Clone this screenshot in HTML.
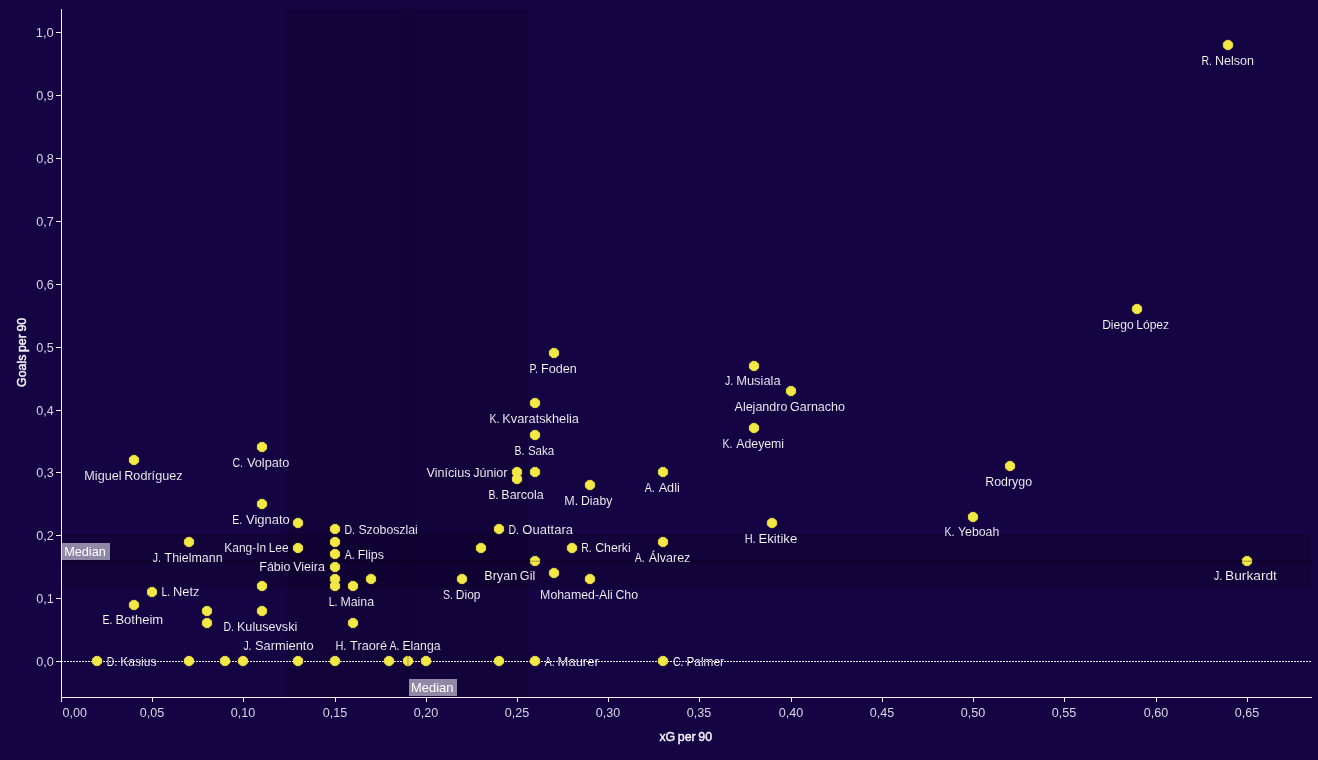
<!DOCTYPE html>
<html lang="en">
<head>
<meta charset="utf-8">
<title>Goals per 90 vs xG per 90</title>
<style>
html,body{margin:0;padding:0;background:#150443;}
body{width:1318px;height:760px;overflow:hidden;}
svg{display:block;font-family:"Liberation Sans", sans-serif;}
text{white-space:pre;}
</style>
</head>
<body>
<svg width="1318" height="760" viewBox="0 0 1318 760">
<rect x="0" y="0" width="1318" height="760" fill="#150443"/>
<g shape-rendering="crispEdges">
<rect x="287" y="9" width="241" height="688" fill="#000000" fill-opacity="0.13"/>
<rect x="62" y="533" width="1249" height="55" fill="#000000" fill-opacity="0.13"/>
<rect x="406" y="9" width="4" height="688" fill="#000" fill-opacity="0.05"/>
<rect x="407" y="9" width="2" height="688" fill="#000" fill-opacity="0.10"/>
<rect x="62" y="560" width="1249" height="3" fill="#000" fill-opacity="0.14"/>
<rect x="61" y="9" width="1" height="689" fill="#f4f2f8"/>
<rect x="61" y="697" width="1251" height="1" fill="#f4f2f8"/>
<rect x="56" y="661" width="5" height="1" fill="#f4f2f8"/>
<rect x="56" y="598" width="5" height="1" fill="#f4f2f8"/>
<rect x="56" y="535" width="5" height="1" fill="#f4f2f8"/>
<rect x="56" y="472" width="5" height="1" fill="#f4f2f8"/>
<rect x="56" y="410" width="5" height="1" fill="#f4f2f8"/>
<rect x="56" y="347" width="5" height="1" fill="#f4f2f8"/>
<rect x="56" y="284" width="5" height="1" fill="#f4f2f8"/>
<rect x="56" y="221" width="5" height="1" fill="#f4f2f8"/>
<rect x="56" y="158" width="5" height="1" fill="#f4f2f8"/>
<rect x="56" y="95" width="5" height="1" fill="#f4f2f8"/>
<rect x="56" y="32" width="5" height="1" fill="#f4f2f8"/>
<rect x="61" y="698" width="1" height="4" fill="#f4f2f8"/>
<rect x="152" y="698" width="1" height="4" fill="#f4f2f8"/>
<rect x="243" y="698" width="1" height="4" fill="#f4f2f8"/>
<rect x="335" y="698" width="1" height="4" fill="#f4f2f8"/>
<rect x="426" y="698" width="1" height="4" fill="#f4f2f8"/>
<rect x="517" y="698" width="1" height="4" fill="#f4f2f8"/>
<rect x="608" y="698" width="1" height="4" fill="#f4f2f8"/>
<rect x="699" y="698" width="1" height="4" fill="#f4f2f8"/>
<rect x="791" y="698" width="1" height="4" fill="#f4f2f8"/>
<rect x="882" y="698" width="1" height="4" fill="#f4f2f8"/>
<rect x="973" y="698" width="1" height="4" fill="#f4f2f8"/>
<rect x="1064" y="698" width="1" height="4" fill="#f4f2f8"/>
<rect x="1156" y="698" width="1" height="4" fill="#f4f2f8"/>
<rect x="1247" y="698" width="1" height="4" fill="#f4f2f8"/>
<rect x="62" y="543" width="48" height="17" fill="#9088a7"/>
<rect x="409" y="679" width="48" height="17" fill="#9088a7"/>
</g>
<g>
<text x="36.27" y="665.80" textLength="17.53" lengthAdjust="spacingAndGlyphs" fill="#d9d5e3" font-size="12.8">0,0</text>
<text x="36.27" y="602.80" textLength="17.64" lengthAdjust="spacingAndGlyphs" fill="#d9d5e3" font-size="12.8">0,1</text>
<text x="36.27" y="539.80" textLength="17.64" lengthAdjust="spacingAndGlyphs" fill="#d9d5e3" font-size="12.8">0,2</text>
<text x="36.27" y="476.80" textLength="17.64" lengthAdjust="spacingAndGlyphs" fill="#d9d5e3" font-size="12.8">0,3</text>
<text x="36.28" y="414.80" textLength="17.42" lengthAdjust="spacingAndGlyphs" fill="#d9d5e3" font-size="12.8">0,4</text>
<text x="36.27" y="351.80" textLength="17.53" lengthAdjust="spacingAndGlyphs" fill="#d9d5e3" font-size="12.8">0,5</text>
<text x="36.27" y="288.80" textLength="17.64" lengthAdjust="spacingAndGlyphs" fill="#d9d5e3" font-size="12.8">0,6</text>
<text x="36.27" y="225.80" textLength="17.64" lengthAdjust="spacingAndGlyphs" fill="#d9d5e3" font-size="12.8">0,7</text>
<text x="36.27" y="162.80" textLength="17.53" lengthAdjust="spacingAndGlyphs" fill="#d9d5e3" font-size="12.8">0,8</text>
<text x="36.27" y="99.80" textLength="17.64" lengthAdjust="spacingAndGlyphs" fill="#d9d5e3" font-size="12.8">0,9</text>
<text x="35.83" y="36.80" textLength="17.99" lengthAdjust="spacingAndGlyphs" fill="#d9d5e3" font-size="12.8">1,0</text>
<text x="62.58" y="716.90" textLength="24.50" lengthAdjust="spacingAndGlyphs" fill="#d9d5e3" font-size="12.8">0,00</text>
<text x="139.78" y="716.90" textLength="24.50" lengthAdjust="spacingAndGlyphs" fill="#d9d5e3" font-size="12.8">0,05</text>
<text x="230.78" y="716.90" textLength="24.50" lengthAdjust="spacingAndGlyphs" fill="#d9d5e3" font-size="12.8">0,10</text>
<text x="322.78" y="716.90" textLength="24.50" lengthAdjust="spacingAndGlyphs" fill="#d9d5e3" font-size="12.8">0,15</text>
<text x="413.78" y="716.90" textLength="24.50" lengthAdjust="spacingAndGlyphs" fill="#d9d5e3" font-size="12.8">0,20</text>
<text x="504.78" y="716.90" textLength="24.50" lengthAdjust="spacingAndGlyphs" fill="#d9d5e3" font-size="12.8">0,25</text>
<text x="595.78" y="716.90" textLength="24.50" lengthAdjust="spacingAndGlyphs" fill="#d9d5e3" font-size="12.8">0,30</text>
<text x="686.78" y="716.90" textLength="24.50" lengthAdjust="spacingAndGlyphs" fill="#d9d5e3" font-size="12.8">0,35</text>
<text x="778.78" y="716.90" textLength="24.50" lengthAdjust="spacingAndGlyphs" fill="#d9d5e3" font-size="12.8">0,40</text>
<text x="869.78" y="716.90" textLength="24.50" lengthAdjust="spacingAndGlyphs" fill="#d9d5e3" font-size="12.8">0,45</text>
<text x="960.78" y="716.90" textLength="24.50" lengthAdjust="spacingAndGlyphs" fill="#d9d5e3" font-size="12.8">0,50</text>
<text x="1051.78" y="716.90" textLength="24.50" lengthAdjust="spacingAndGlyphs" fill="#d9d5e3" font-size="12.8">0,55</text>
<text x="1143.78" y="716.90" textLength="24.50" lengthAdjust="spacingAndGlyphs" fill="#d9d5e3" font-size="12.8">0,60</text>
<text x="1234.78" y="716.90" textLength="24.50" lengthAdjust="spacingAndGlyphs" fill="#d9d5e3" font-size="12.8">0,65</text>
</g>
<text x="659.39" y="741.00" textLength="52.72" lengthAdjust="spacingAndGlyphs" fill="#f3f1f7" font-size="12.4" word-spacing="-0.8" stroke="#f3f1f7" stroke-width="0.45" stroke-linejoin="round">xG per 90</text>
<g transform="translate(26.3,387) rotate(-90)"><text x="0.08" y="0.00" textLength="69.14" lengthAdjust="spacingAndGlyphs" fill="#f3f1f7" font-size="12.4" word-spacing="-0.8" stroke="#f3f1f7" stroke-width="0.45" stroke-linejoin="round">Goals per 90</text></g>
<text x="64.24" y="556.00" textLength="41.55" lengthAdjust="spacingAndGlyphs" fill="#ffffff" font-size="12.8">Median</text>
<text x="411.02" y="692.00" textLength="42.39" lengthAdjust="spacingAndGlyphs" fill="#ffffff" font-size="12.8">Median</text>
<g stroke="#150443" stroke-width="0.12">
<text y="64.60" fill="#ffffff" font-size="12.8"><tspan x="1201.48" textLength="10.50" lengthAdjust="spacingAndGlyphs">R.</tspan><tspan> </tspan><tspan x="1214.97" textLength="38.97" lengthAdjust="spacingAndGlyphs">Nelson</tspan></text>
<text x="1102.14" y="329.40" textLength="66.99" lengthAdjust="spacingAndGlyphs" fill="#ffffff" font-size="12.8" word-spacing="-0.8">Diego López</text>
<text y="373.10" fill="#ffffff" font-size="12.8"><tspan x="529.48" textLength="8.56" lengthAdjust="spacingAndGlyphs">P.</tspan><tspan> </tspan><tspan x="541.03" textLength="35.78" lengthAdjust="spacingAndGlyphs">Foden</tspan></text>
<text y="385.10" fill="#ffffff" font-size="12.8"><tspan x="725.08" textLength="8.16" lengthAdjust="spacingAndGlyphs">J.</tspan><tspan> </tspan><tspan x="736.17" textLength="44.52" lengthAdjust="spacingAndGlyphs">Musiala</tspan></text>
<text x="734.55" y="410.90" textLength="110.45" lengthAdjust="spacingAndGlyphs" fill="#ffffff" font-size="12.8" word-spacing="-0.8">Alejandro Garnacho</text>
<text y="423.20" fill="#ffffff" font-size="12.8"><tspan x="489.48" textLength="9.92" lengthAdjust="spacingAndGlyphs">K.</tspan><tspan> </tspan><tspan x="502.33" textLength="76.65" lengthAdjust="spacingAndGlyphs">Kvaratskhelia</tspan></text>
<text y="448.00" fill="#ffffff" font-size="12.8"><tspan x="722.38" textLength="9.92" lengthAdjust="spacingAndGlyphs">K.</tspan><tspan> </tspan><tspan x="736.30" textLength="47.76" lengthAdjust="spacingAndGlyphs">Adeyemi</tspan></text>
<text y="455.10" fill="#ffffff" font-size="12.8"><tspan x="514.58" textLength="9.92" lengthAdjust="spacingAndGlyphs">B.</tspan><tspan> </tspan><tspan x="527.92" textLength="26.28" lengthAdjust="spacingAndGlyphs">Saka</tspan></text>
<text y="467.10" fill="#ffffff" font-size="12.8"><tspan x="232.53" textLength="10.50" lengthAdjust="spacingAndGlyphs">C.</tspan><tspan> </tspan><tspan x="246.95" textLength="42.46" lengthAdjust="spacingAndGlyphs">Volpato</tspan></text>
<text x="84.30" y="480.10" textLength="98.23" lengthAdjust="spacingAndGlyphs" fill="#ffffff" font-size="12.8" word-spacing="-0.8">Miguel Rodríguez</text>
<text x="985.22" y="486.30" textLength="46.91" lengthAdjust="spacingAndGlyphs" fill="#ffffff" font-size="12.8">Rodrygo</text>
<text x="426.54" y="477.10" textLength="81.03" lengthAdjust="spacingAndGlyphs" fill="#ffffff" font-size="12.8" word-spacing="-0.8">Vinícius Júnior</text>
<text y="492.10" fill="#ffffff" font-size="12.8"><tspan x="644.75" textLength="9.92" lengthAdjust="spacingAndGlyphs">A.</tspan><tspan> </tspan><tspan x="658.67" textLength="21.13" lengthAdjust="spacingAndGlyphs">Adli</tspan></text>
<text y="498.90" fill="#ffffff" font-size="12.8"><tspan x="488.48" textLength="9.92" lengthAdjust="spacingAndGlyphs">B.</tspan><tspan> </tspan><tspan x="501.36" textLength="42.28" lengthAdjust="spacingAndGlyphs">Barcola</tspan></text>
<text y="504.90" fill="#ffffff" font-size="12.8"><tspan x="564.30" textLength="13.94" lengthAdjust="spacingAndGlyphs">M.</tspan><tspan> </tspan><tspan x="581.04" textLength="31.29" lengthAdjust="spacingAndGlyphs">Diaby</tspan></text>
<text y="523.90" fill="#ffffff" font-size="12.8"><tspan x="232.18" textLength="9.92" lengthAdjust="spacingAndGlyphs">E.</tspan><tspan> </tspan><tspan x="245.99" textLength="43.78" lengthAdjust="spacingAndGlyphs">Vignato</tspan></text>
<text y="535.90" fill="#ffffff" font-size="12.8"><tspan x="944.38" textLength="9.92" lengthAdjust="spacingAndGlyphs">K.</tspan><tspan> </tspan><tspan x="957.99" textLength="41.35" lengthAdjust="spacingAndGlyphs">Yeboah</tspan></text>
<text y="543.20" fill="#ffffff" font-size="12.8"><tspan x="744.63" textLength="11.01" lengthAdjust="spacingAndGlyphs">H.</tspan><tspan> </tspan><tspan x="758.54" textLength="38.71" lengthAdjust="spacingAndGlyphs">Ekitike</tspan></text>
<text y="533.90" fill="#ffffff" font-size="12.8"><tspan x="344.48" textLength="10.50" lengthAdjust="spacingAndGlyphs">D.</tspan><tspan> </tspan><tspan x="358.40" textLength="59.40" lengthAdjust="spacingAndGlyphs">Szoboszlai</tspan></text>
<text y="533.90" fill="#ffffff" font-size="12.8"><tspan x="508.48" textLength="10.50" lengthAdjust="spacingAndGlyphs">D.</tspan><tspan> </tspan><tspan x="522.36" textLength="50.58" lengthAdjust="spacingAndGlyphs">Ouattara</tspan></text>
<text y="562.00" fill="#ffffff" font-size="12.8"><tspan x="152.68" textLength="8.16" lengthAdjust="spacingAndGlyphs">J.</tspan><tspan> </tspan><tspan x="164.54" textLength="58.06" lengthAdjust="spacingAndGlyphs">Thielmann</tspan></text>
<text y="562.00" fill="#ffffff" font-size="12.8"><tspan x="634.75" textLength="9.92" lengthAdjust="spacingAndGlyphs">A.</tspan><tspan> </tspan><tspan x="648.67" textLength="41.72" lengthAdjust="spacingAndGlyphs">Álvarez</tspan></text>
<text x="224.36" y="551.90" textLength="64.17" lengthAdjust="spacingAndGlyphs" fill="#ffffff" font-size="12.8" word-spacing="-0.8">Kang-In Lee</text>
<text y="551.90" fill="#ffffff" font-size="12.8"><tspan x="581.28" textLength="10.50" lengthAdjust="spacingAndGlyphs">R.</tspan><tspan> </tspan><tspan x="595.19" textLength="35.55" lengthAdjust="spacingAndGlyphs">Cherki</tspan></text>
<text y="558.50" fill="#ffffff" font-size="12.8"><tspan x="344.75" textLength="9.92" lengthAdjust="spacingAndGlyphs">A.</tspan><tspan> </tspan><tspan x="357.63" textLength="26.27" lengthAdjust="spacingAndGlyphs">Flips</tspan></text>
<text x="484.30" y="580.10" textLength="50.93" lengthAdjust="spacingAndGlyphs" fill="#ffffff" font-size="12.8" word-spacing="-0.8">Bryan Gil</text>
<text y="580.20" fill="#ffffff" font-size="12.8"><tspan x="1214.08" textLength="8.16" lengthAdjust="spacingAndGlyphs">J.</tspan><tspan> </tspan><tspan x="1225.10" textLength="51.82" lengthAdjust="spacingAndGlyphs">Burkardt</tspan></text>
<text x="259.31" y="571.00" textLength="65.55" lengthAdjust="spacingAndGlyphs" fill="#ffffff" font-size="12.8" word-spacing="-0.8">Fábio Vieira</text>
<text y="599.00" fill="#ffffff" font-size="12.8"><tspan x="442.93" textLength="9.92" lengthAdjust="spacingAndGlyphs">S.</tspan><tspan> </tspan><tspan x="455.85" textLength="24.68" lengthAdjust="spacingAndGlyphs">Diop</tspan></text>
<text x="540.12" y="599.00" textLength="97.98" lengthAdjust="spacingAndGlyphs" fill="#ffffff" font-size="12.8" word-spacing="-0.8">Mohamed-Ali Cho</text>
<text y="606.10" fill="#ffffff" font-size="12.8"><tspan x="328.68" textLength="8.75" lengthAdjust="spacingAndGlyphs">L.</tspan><tspan> </tspan><tspan x="340.43" textLength="33.70" lengthAdjust="spacingAndGlyphs">Maina</tspan></text>
<text y="596.00" fill="#ffffff" font-size="12.8"><tspan x="161.38" textLength="8.75" lengthAdjust="spacingAndGlyphs">L.</tspan><tspan> </tspan><tspan x="173.09" textLength="26.37" lengthAdjust="spacingAndGlyphs">Netz</tspan></text>
<text y="623.80" fill="#ffffff" font-size="12.8"><tspan x="102.58" textLength="9.92" lengthAdjust="spacingAndGlyphs">E.</tspan><tspan> </tspan><tspan x="115.41" textLength="47.73" lengthAdjust="spacingAndGlyphs">Botheim</tspan></text>
<text y="630.80" fill="#ffffff" font-size="12.8"><tspan x="223.48" textLength="10.50" lengthAdjust="spacingAndGlyphs">D.</tspan><tspan> </tspan><tspan x="236.96" textLength="60.29" lengthAdjust="spacingAndGlyphs">Kulusevski</tspan></text>
<text y="650.10" fill="#ffffff" font-size="12.8"><tspan x="243.38" textLength="8.16" lengthAdjust="spacingAndGlyphs">J.</tspan><tspan> </tspan><tspan x="254.90" textLength="58.67" lengthAdjust="spacingAndGlyphs">Sarmiento</tspan></text>
<text y="650.10" fill="#ffffff" font-size="12.8"><tspan x="335.43" textLength="11.01" lengthAdjust="spacingAndGlyphs">H.</tspan><tspan> </tspan><tspan x="350.11" textLength="36.97" lengthAdjust="spacingAndGlyphs">Traoré</tspan></text>
<text y="650.10" fill="#ffffff" font-size="12.8"><tspan x="389.55" textLength="9.92" lengthAdjust="spacingAndGlyphs">A.</tspan><tspan> </tspan><tspan x="402.45" textLength="38.06" lengthAdjust="spacingAndGlyphs">Elanga</tspan></text>
<text y="665.90" fill="#ffffff" font-size="12.8"><tspan x="106.78" textLength="10.50" lengthAdjust="spacingAndGlyphs">D.</tspan><tspan> </tspan><tspan x="120.31" textLength="36.16" lengthAdjust="spacingAndGlyphs">Kasius</tspan></text>
<text y="665.90" fill="#ffffff" font-size="12.8"><tspan x="544.75" textLength="9.92" lengthAdjust="spacingAndGlyphs">A.</tspan><tspan> </tspan><tspan x="557.59" textLength="41.19" lengthAdjust="spacingAndGlyphs">Maurer</tspan></text>
<text y="665.90" fill="#ffffff" font-size="12.8"><tspan x="672.93" textLength="10.50" lengthAdjust="spacingAndGlyphs">C.</tspan><tspan> </tspan><tspan x="686.47" textLength="37.49" lengthAdjust="spacingAndGlyphs">Palmer</tspan></text>
</g>
<rect shape-rendering="crispEdges" x="106" y="661" width="52" height="1" fill="#150443" fill-opacity="0.8"/>
<rect shape-rendering="crispEdges" x="544" y="661" width="56" height="1" fill="#150443" fill-opacity="0.8"/>
<rect shape-rendering="crispEdges" x="672" y="661" width="53" height="1" fill="#150443" fill-opacity="0.8"/>
<line shape-rendering="crispEdges" x1="61" y1="661.5" x2="1311" y2="661.5" stroke="#f0eef5" stroke-width="1" stroke-dasharray="2 1" stroke-dashoffset="0"/>
<g fill="#f3e844" stroke="#f3e844" stroke-width="0.9" stroke-linejoin="round">
<path transform="translate(1228,45)" d="M-1.95,-4.6L1.95,-4.6L4.6,-1.95L4.6,1.95L1.95,4.6L-1.95,4.6L-4.6,1.95L-4.6,-1.95Z"/>
<path transform="translate(1137,309)" d="M-1.95,-4.6L1.95,-4.6L4.6,-1.95L4.6,1.95L1.95,4.6L-1.95,4.6L-4.6,1.95L-4.6,-1.95Z"/>
<path transform="translate(554,353)" d="M-1.95,-4.6L1.95,-4.6L4.6,-1.95L4.6,1.95L1.95,4.6L-1.95,4.6L-4.6,1.95L-4.6,-1.95Z"/>
<path transform="translate(754,366)" d="M-1.95,-4.6L1.95,-4.6L4.6,-1.95L4.6,1.95L1.95,4.6L-1.95,4.6L-4.6,1.95L-4.6,-1.95Z"/>
<path transform="translate(791,391)" d="M-1.95,-4.6L1.95,-4.6L4.6,-1.95L4.6,1.95L1.95,4.6L-1.95,4.6L-4.6,1.95L-4.6,-1.95Z"/>
<path transform="translate(535,403)" d="M-1.95,-4.6L1.95,-4.6L4.6,-1.95L4.6,1.95L1.95,4.6L-1.95,4.6L-4.6,1.95L-4.6,-1.95Z"/>
<path transform="translate(754,428)" d="M-1.95,-4.6L1.95,-4.6L4.6,-1.95L4.6,1.95L1.95,4.6L-1.95,4.6L-4.6,1.95L-4.6,-1.95Z"/>
<path transform="translate(535,435)" d="M-1.95,-4.6L1.95,-4.6L4.6,-1.95L4.6,1.95L1.95,4.6L-1.95,4.6L-4.6,1.95L-4.6,-1.95Z"/>
<path transform="translate(262,447)" d="M-1.95,-4.6L1.95,-4.6L4.6,-1.95L4.6,1.95L1.95,4.6L-1.95,4.6L-4.6,1.95L-4.6,-1.95Z"/>
<path transform="translate(134,460)" d="M-1.95,-4.6L1.95,-4.6L4.6,-1.95L4.6,1.95L1.95,4.6L-1.95,4.6L-4.6,1.95L-4.6,-1.95Z"/>
<path transform="translate(1010,466)" d="M-1.95,-4.6L1.95,-4.6L4.6,-1.95L4.6,1.95L1.95,4.6L-1.95,4.6L-4.6,1.95L-4.6,-1.95Z"/>
<path transform="translate(517,472)" d="M-1.95,-4.6L1.95,-4.6L4.6,-1.95L4.6,1.95L1.95,4.6L-1.95,4.6L-4.6,1.95L-4.6,-1.95Z"/>
<path transform="translate(535,472)" d="M-1.95,-4.6L1.95,-4.6L4.6,-1.95L4.6,1.95L1.95,4.6L-1.95,4.6L-4.6,1.95L-4.6,-1.95Z"/>
<path transform="translate(663,472)" d="M-1.95,-4.6L1.95,-4.6L4.6,-1.95L4.6,1.95L1.95,4.6L-1.95,4.6L-4.6,1.95L-4.6,-1.95Z"/>
<path transform="translate(517,479)" d="M-1.95,-4.6L1.95,-4.6L4.6,-1.95L4.6,1.95L1.95,4.6L-1.95,4.6L-4.6,1.95L-4.6,-1.95Z"/>
<path transform="translate(590,485)" d="M-1.95,-4.6L1.95,-4.6L4.6,-1.95L4.6,1.95L1.95,4.6L-1.95,4.6L-4.6,1.95L-4.6,-1.95Z"/>
<path transform="translate(262,504)" d="M-1.95,-4.6L1.95,-4.6L4.6,-1.95L4.6,1.95L1.95,4.6L-1.95,4.6L-4.6,1.95L-4.6,-1.95Z"/>
<path transform="translate(973,517)" d="M-1.95,-4.6L1.95,-4.6L4.6,-1.95L4.6,1.95L1.95,4.6L-1.95,4.6L-4.6,1.95L-4.6,-1.95Z"/>
<path transform="translate(298,523)" d="M-1.95,-4.6L1.95,-4.6L4.6,-1.95L4.6,1.95L1.95,4.6L-1.95,4.6L-4.6,1.95L-4.6,-1.95Z"/>
<path transform="translate(772,523)" d="M-1.95,-4.6L1.95,-4.6L4.6,-1.95L4.6,1.95L1.95,4.6L-1.95,4.6L-4.6,1.95L-4.6,-1.95Z"/>
<path transform="translate(335,529)" d="M-1.95,-4.6L1.95,-4.6L4.6,-1.95L4.6,1.95L1.95,4.6L-1.95,4.6L-4.6,1.95L-4.6,-1.95Z"/>
<path transform="translate(499,529)" d="M-1.95,-4.6L1.95,-4.6L4.6,-1.95L4.6,1.95L1.95,4.6L-1.95,4.6L-4.6,1.95L-4.6,-1.95Z"/>
<path transform="translate(189,542)" d="M-1.95,-4.6L1.95,-4.6L4.6,-1.95L4.6,1.95L1.95,4.6L-1.95,4.6L-4.6,1.95L-4.6,-1.95Z"/>
<path transform="translate(335,542)" d="M-1.95,-4.6L1.95,-4.6L4.6,-1.95L4.6,1.95L1.95,4.6L-1.95,4.6L-4.6,1.95L-4.6,-1.95Z"/>
<path transform="translate(663,542)" d="M-1.95,-4.6L1.95,-4.6L4.6,-1.95L4.6,1.95L1.95,4.6L-1.95,4.6L-4.6,1.95L-4.6,-1.95Z"/>
<path transform="translate(298,548)" d="M-1.95,-4.6L1.95,-4.6L4.6,-1.95L4.6,1.95L1.95,4.6L-1.95,4.6L-4.6,1.95L-4.6,-1.95Z"/>
<path transform="translate(481,548)" d="M-1.95,-4.6L1.95,-4.6L4.6,-1.95L4.6,1.95L1.95,4.6L-1.95,4.6L-4.6,1.95L-4.6,-1.95Z"/>
<path transform="translate(572,548)" d="M-1.95,-4.6L1.95,-4.6L4.6,-1.95L4.6,1.95L1.95,4.6L-1.95,4.6L-4.6,1.95L-4.6,-1.95Z"/>
<path transform="translate(335,554)" d="M-1.95,-4.6L1.95,-4.6L4.6,-1.95L4.6,1.95L1.95,4.6L-1.95,4.6L-4.6,1.95L-4.6,-1.95Z"/>
<path transform="translate(535,561)" d="M-1.95,-4.6L1.95,-4.6L4.6,-1.95L4.6,1.95L1.95,4.6L-1.95,4.6L-4.6,1.95L-4.6,-1.95Z"/>
<path transform="translate(1247,561)" d="M-1.95,-4.6L1.95,-4.6L4.6,-1.95L4.6,1.95L1.95,4.6L-1.95,4.6L-4.6,1.95L-4.6,-1.95Z"/>
<path transform="translate(335,567)" d="M-1.95,-4.6L1.95,-4.6L4.6,-1.95L4.6,1.95L1.95,4.6L-1.95,4.6L-4.6,1.95L-4.6,-1.95Z"/>
<path transform="translate(554,573)" d="M-1.95,-4.6L1.95,-4.6L4.6,-1.95L4.6,1.95L1.95,4.6L-1.95,4.6L-4.6,1.95L-4.6,-1.95Z"/>
<path transform="translate(335,579)" d="M-1.95,-4.6L1.95,-4.6L4.6,-1.95L4.6,1.95L1.95,4.6L-1.95,4.6L-4.6,1.95L-4.6,-1.95Z"/>
<path transform="translate(371,579)" d="M-1.95,-4.6L1.95,-4.6L4.6,-1.95L4.6,1.95L1.95,4.6L-1.95,4.6L-4.6,1.95L-4.6,-1.95Z"/>
<path transform="translate(462,579)" d="M-1.95,-4.6L1.95,-4.6L4.6,-1.95L4.6,1.95L1.95,4.6L-1.95,4.6L-4.6,1.95L-4.6,-1.95Z"/>
<path transform="translate(590,579)" d="M-1.95,-4.6L1.95,-4.6L4.6,-1.95L4.6,1.95L1.95,4.6L-1.95,4.6L-4.6,1.95L-4.6,-1.95Z"/>
<path transform="translate(262,586)" d="M-1.95,-4.6L1.95,-4.6L4.6,-1.95L4.6,1.95L1.95,4.6L-1.95,4.6L-4.6,1.95L-4.6,-1.95Z"/>
<path transform="translate(335,586)" d="M-1.95,-4.6L1.95,-4.6L4.6,-1.95L4.6,1.95L1.95,4.6L-1.95,4.6L-4.6,1.95L-4.6,-1.95Z"/>
<path transform="translate(353,586)" d="M-1.95,-4.6L1.95,-4.6L4.6,-1.95L4.6,1.95L1.95,4.6L-1.95,4.6L-4.6,1.95L-4.6,-1.95Z"/>
<path transform="translate(152,592)" d="M-1.95,-4.6L1.95,-4.6L4.6,-1.95L4.6,1.95L1.95,4.6L-1.95,4.6L-4.6,1.95L-4.6,-1.95Z"/>
<path transform="translate(134,605)" d="M-1.95,-4.6L1.95,-4.6L4.6,-1.95L4.6,1.95L1.95,4.6L-1.95,4.6L-4.6,1.95L-4.6,-1.95Z"/>
<path transform="translate(207,611)" d="M-1.95,-4.6L1.95,-4.6L4.6,-1.95L4.6,1.95L1.95,4.6L-1.95,4.6L-4.6,1.95L-4.6,-1.95Z"/>
<path transform="translate(262,611)" d="M-1.95,-4.6L1.95,-4.6L4.6,-1.95L4.6,1.95L1.95,4.6L-1.95,4.6L-4.6,1.95L-4.6,-1.95Z"/>
<path transform="translate(207,623)" d="M-1.95,-4.6L1.95,-4.6L4.6,-1.95L4.6,1.95L1.95,4.6L-1.95,4.6L-4.6,1.95L-4.6,-1.95Z"/>
<path transform="translate(353,623)" d="M-1.95,-4.6L1.95,-4.6L4.6,-1.95L4.6,1.95L1.95,4.6L-1.95,4.6L-4.6,1.95L-4.6,-1.95Z"/>
<path transform="translate(97,661)" d="M-1.95,-4.6L1.95,-4.6L4.6,-1.95L4.6,1.95L1.95,4.6L-1.95,4.6L-4.6,1.95L-4.6,-1.95Z"/>
<path transform="translate(189,661)" d="M-1.95,-4.6L1.95,-4.6L4.6,-1.95L4.6,1.95L1.95,4.6L-1.95,4.6L-4.6,1.95L-4.6,-1.95Z"/>
<path transform="translate(225,661)" d="M-1.95,-4.6L1.95,-4.6L4.6,-1.95L4.6,1.95L1.95,4.6L-1.95,4.6L-4.6,1.95L-4.6,-1.95Z"/>
<path transform="translate(243,661)" d="M-1.95,-4.6L1.95,-4.6L4.6,-1.95L4.6,1.95L1.95,4.6L-1.95,4.6L-4.6,1.95L-4.6,-1.95Z"/>
<path transform="translate(298,661)" d="M-1.95,-4.6L1.95,-4.6L4.6,-1.95L4.6,1.95L1.95,4.6L-1.95,4.6L-4.6,1.95L-4.6,-1.95Z"/>
<path transform="translate(335,661)" d="M-1.95,-4.6L1.95,-4.6L4.6,-1.95L4.6,1.95L1.95,4.6L-1.95,4.6L-4.6,1.95L-4.6,-1.95Z"/>
<path transform="translate(389,661)" d="M-1.95,-4.6L1.95,-4.6L4.6,-1.95L4.6,1.95L1.95,4.6L-1.95,4.6L-4.6,1.95L-4.6,-1.95Z"/>
<path transform="translate(408,661)" d="M-1.95,-4.6L1.95,-4.6L4.6,-1.95L4.6,1.95L1.95,4.6L-1.95,4.6L-4.6,1.95L-4.6,-1.95Z"/>
<path transform="translate(426,661)" d="M-1.95,-4.6L1.95,-4.6L4.6,-1.95L4.6,1.95L1.95,4.6L-1.95,4.6L-4.6,1.95L-4.6,-1.95Z"/>
<path transform="translate(499,661)" d="M-1.95,-4.6L1.95,-4.6L4.6,-1.95L4.6,1.95L1.95,4.6L-1.95,4.6L-4.6,1.95L-4.6,-1.95Z"/>
<path transform="translate(535,661)" d="M-1.95,-4.6L1.95,-4.6L4.6,-1.95L4.6,1.95L1.95,4.6L-1.95,4.6L-4.6,1.95L-4.6,-1.95Z"/>
<path transform="translate(663,661)" d="M-1.95,-4.6L1.95,-4.6L4.6,-1.95L4.6,1.95L1.95,4.6L-1.95,4.6L-4.6,1.95L-4.6,-1.95Z"/>
</g>
<g fill="none" stroke="#000" stroke-width="1">
<line x1="530" y1="561.2" x2="540" y2="561.2" stroke-opacity="0.2"/>
<line x1="530" y1="561.2" x2="540" y2="561.2" stroke-opacity="0.3" stroke-dasharray="1 1"/>
<line x1="1242" y1="561.2" x2="1252" y2="561.2" stroke-opacity="0.2"/>
<line x1="1242" y1="561.2" x2="1252" y2="561.2" stroke-opacity="0.3" stroke-dasharray="1 1"/>
<line x1="408" y1="656" x2="408" y2="666" stroke-opacity="0.2"/>
<line x1="408" y1="656" x2="408" y2="666" stroke-opacity="0.3" stroke-dasharray="1 1"/>
</g>
</svg>
</body>
</html>
